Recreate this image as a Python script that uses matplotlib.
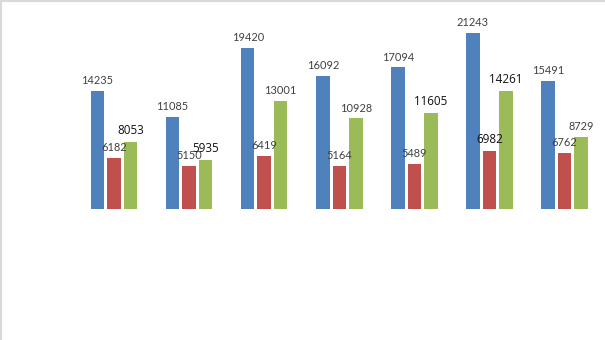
import numpy as np
import matplotlib.pyplot as plt
from matplotlib.lines import Line2D

# series values per group
blue_vals = [14235, 11085, 19420, 16092, 17094, 21243, 15491]
red_vals = [6182, 5150, 6419, 5164, 5489, 6982, 6762]
green_vals = [8053, 5935, 13001, 10928, 11605, 14261, 8729]

# labels drawn larger and darker
emph_red = [False, False, False, False, False, True, False]
emph_green = [True, True, False, False, True, True, False]

colors = ["#4F81BD", "#C0504D", "#9BBB59"]

fig = plt.figure(figsize=(6.05, 3.4), dpi=100)
ax = fig.add_axes([0.1264, 0.3853, 0.8688, 0.609])

x = np.arange(len(blue_vals))
offset = 0.22
width = 0.18

series = [(blue_vals, [False] * 7), (red_vals, emph_red), (green_vals, emph_green)]
for i, (vals, emph) in enumerate(series):
    xs = x + (i - 1) * offset
    ax.bar(xs, vals, width=width, color=colors[i])
    for xi, v, e in zip(xs, vals, emph):
        if e:
            ax.annotate(str(v), (xi, v), xytext=(0, 3.5), textcoords="offset points",
                        ha="center", va="bottom", fontsize=8.4, color="#111111",
                        family="Open Sans", weight="medium")
        else:
            ax.annotate(str(v), (xi, v), xytext=(0, 3.5), textcoords="offset points",
                        ha="center", va="bottom", fontsize=7.9, color="#404040",
                        family="Lato")

ax.set_xlim(-0.5, 6.5)
ax.set_ylim(0, 25000)
ax.axis("off")

# light frame on top and left edges
fig.add_artist(Line2D([0, 1], [0.998, 0.998], transform=fig.transFigure, color="#d9d9d9", lw=1.5))
fig.add_artist(Line2D([0.001, 0.001], [0, 1], transform=fig.transFigure, color="#d9d9d9", lw=1.5))

fig.savefig("out.png", dpi=100)
